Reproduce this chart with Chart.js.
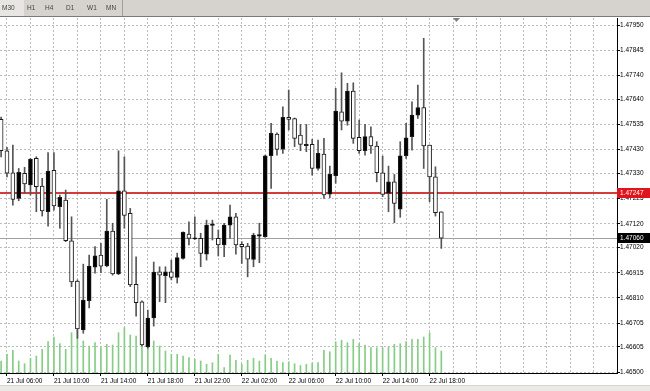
<!DOCTYPE html>
<html>
<head>
<meta charset="utf-8">
<script src="https://cdn.jsdelivr.net/npm/chart.js@4"></script>
<style>
  html, body { margin: 0; padding: 0; background: #fff; }
  canvas { display: block; }
</style>
</head>
<body>
<canvas id="chart" width="650" height="391"></canvas>
<script>
// M30 bars, first bar = 21 Jul 05:30
const timeLabels = ['21 Jul 06:00', '21 Jul 10:00', '21 Jul 14:00', '21 Jul 18:00', '21 Jul 22:00',
    '22 Jul 02:00', '22 Jul 06:00', '22 Jul 10:00', '22 Jul 14:00', '22 Jul 18:00'];
const priceTicks = [1.46500, 1.46605, 1.46705, 1.46810, 1.46915, 1.47020, 1.47120, 1.47225,
    1.47330, 1.47430, 1.47535, 1.47640, 1.47740, 1.47845, 1.47950];
const timeframes = ['M30', 'H1', 'H4', 'D1', 'W1', 'MN'];

const opens = [1.47556, 1.47425, 1.47333, 1.47226, 1.47331, 1.47282, 1.47393, 1.47277, 1.47170, 1.47343,
    1.47191, 1.47219, 1.47049, 1.46880, 1.46676, 1.46798, 1.46938, 1.46989, 1.46944, 1.47089,
    1.46910, 1.47257, 1.47163, 1.46867, 1.46794, 1.46605, 1.46726, 1.46919, 1.46903, 1.46919,
    1.46896, 1.46975, 1.47077, 1.47056, 1.47059, 1.46993, 1.47113, 1.47059, 1.47031, 1.47114,
    1.47149, 1.47034, 1.47027, 1.46971, 1.47068, 1.47066, 1.47404, 1.47495, 1.47432, 1.47565,
    1.47560, 1.47491, 1.47446, 1.47452, 1.47351, 1.47411, 1.47244, 1.47321, 1.47588, 1.47549,
    1.47675, 1.47481, 1.47425, 1.47484, 1.47445, 1.47333, 1.47247, 1.47295, 1.47181, 1.47404,
    1.47484, 1.47574, 1.47606, 1.47449, 1.47316, 1.47170];
const highs = [1.47566, 1.47439, 1.47449, 1.47351, 1.47356, 1.47393, 1.47400, 1.47310, 1.47417, 1.47417,
    1.47240, 1.47261, 1.47149, 1.46885, 1.46951, 1.46989, 1.47024, 1.47038, 1.47222, 1.47122,
    1.47425, 1.47400, 1.47184, 1.46982, 1.46798, 1.46759, 1.46960, 1.46940, 1.46940, 1.46968,
    1.46997, 1.47086, 1.47128, 1.47149, 1.47080, 1.47135, 1.47135, 1.47094, 1.47122, 1.47198,
    1.47163, 1.47045, 1.47038, 1.47080, 1.47122, 1.47407, 1.47540, 1.47500, 1.47609, 1.47679,
    1.47562, 1.47535, 1.47535, 1.47473, 1.47470, 1.47477, 1.47361, 1.47686, 1.47751, 1.47707,
    1.47709, 1.47553, 1.47535, 1.47525, 1.47463, 1.47403, 1.47361, 1.47326, 1.47463, 1.47540,
    1.47630, 1.47700, 1.47895, 1.47449, 1.47358, 1.47170];
const lows = [1.47399, 1.47316, 1.47198, 1.47216, 1.47247, 1.47240, 1.47170, 1.47152, 1.47110, 1.47177,
    1.47101, 1.47045, 1.46857, 1.46641, 1.46662, 1.46768, 1.46913, 1.46915, 1.46940, 1.46905,
    1.46907, 1.47101, 1.46857, 1.46734, 1.46609, 1.46600, 1.46692, 1.46794, 1.46790, 1.46885,
    1.46872, 1.46972, 1.47031, 1.47054, 1.46940, 1.46968, 1.47052, 1.46985, 1.46982, 1.47059,
    1.46993, 1.46954, 1.46898, 1.46940, 1.46957, 1.47063, 1.47268, 1.47407, 1.47414, 1.47512,
    1.47442, 1.47425, 1.47421, 1.47323, 1.47344, 1.47226, 1.47229, 1.47289, 1.47512, 1.47532,
    1.47456, 1.47414, 1.47407, 1.47414, 1.47295, 1.47233, 1.47170, 1.47124, 1.47147, 1.47393,
    1.47428, 1.47560, 1.47351, 1.47212, 1.47152, 1.47017];
const closes = [1.47425, 1.47331, 1.47222, 1.47335, 1.47286, 1.47389, 1.47275, 1.47174, 1.47340, 1.47194,
    1.47230, 1.47049, 1.46877, 1.46680, 1.46801, 1.46943, 1.46986, 1.46943, 1.47089, 1.46910,
    1.47257, 1.47155, 1.46864, 1.46790, 1.46613, 1.46726, 1.46918, 1.46905, 1.46919, 1.46896,
    1.46978, 1.47084, 1.47059, 1.47061, 1.46996, 1.47114, 1.47120, 1.47031, 1.47114, 1.47149,
    1.47031, 1.47024, 1.46972, 1.47073, 1.47075, 1.47404, 1.47498, 1.47431, 1.47565, 1.47556,
    1.47477, 1.47452, 1.47452, 1.47351, 1.47414, 1.47240, 1.47326, 1.47591, 1.47549, 1.47675,
    1.47477, 1.47425, 1.47484, 1.47445, 1.47333, 1.47243, 1.47295, 1.47205, 1.47404, 1.47479,
    1.47574, 1.47606, 1.47445, 1.47316, 1.47166, 1.47060];
const volumes = [120, 187, 227, 120, 93, 147, 170, 237, 313, 360,
    293, 237, 403, 427, 320, 270, 303, 253, 287, 280,
    403, 453, 380, 370, 420, 303, 320, 270, 220, 187,
    187, 170, 153, 137, 120, 87, 103, 187, 53, 180,
    127, 87, 127, 147, 120, 180, 147, 120, 103, 113,
    93, 75, 87, 100, 103, 227, 213, 313, 327, 303,
    337, 293, 280, 253, 253, 253, 260, 287, 293, 313,
    337, 337, 360, 403, 253, 220];

const alertLevel = 1.47247;
const bidLevel = 1.47060;

const FONT = 'Liberation Sans, Arial, sans-serif';
const firstLabelBar = 1;   // 21 Jul 06:00
const barsPerLabel = 8;
const barsPerGrid = 4;
const lastGridBar = 101;

const bodies = opens.map((o, i) => ({ x: i, y: [o, closes[i]] }));
const wicks = highs.map((h, i) => ({ x: i, y: [lows[i], h] }));
const vols = volumes.map((v, i) => ({ x: i, y: v }));
const bodyFill = opens.map((o, i) => closes[i] >= o ? '#000' : '#fff');

const gridBars = [];
for (let b = firstLabelBar; b <= lastGridBar; b += barsPerGrid) gridBars.push(b);

function labelFor(bar) {
    const k = (bar - firstLabelBar) / barsPerLabel;
    return Number.isInteger(k) && k < timeLabels.length ? timeLabels[k] : '';
}

function priceBox(ctx, chart, level, bg) {
    const y = Math.round(chart.scales.y.getPixelForValue(level));
    ctx.fillStyle = bg;
    ctx.fillRect(617, y - 5, 33, 10);
    ctx.fillStyle = '#fff';
    ctx.font = '6.5px ' + FONT;
    ctx.textBaseline = 'middle';
    ctx.textAlign = 'left';
    ctx.fillText(level.toFixed(5), 620, y);
}

function hLine(ctx, chart, level, color, thick) {
    const { chartArea } = chart;
    const y = Math.round(chart.scales.y.getPixelForValue(level));
    ctx.fillStyle = color;
    ctx.fillRect(chartArea.left, y - (thick > 1 ? 1 : 0), chartArea.right - chartArea.left, thick);
}

const mt4Chrome = {
    id: 'mt4Chrome',
    beforeDraw(chart) {
        const { ctx, width, height } = chart;
        ctx.save();
        ctx.fillStyle = '#fff';
        ctx.fillRect(0, 0, width, height);
        // toolbar with timeframe buttons
        ctx.fillStyle = '#d6d3ce';
        ctx.fillRect(0, 0, width, 16);
        ctx.fillStyle = '#e8e6e2';
        ctx.fillRect(0, 0, 24, 16);
        ctx.fillStyle = '#7a7a7a';
        ctx.fillRect(0, 16, width, 1);
        ctx.fillStyle = '#a0a0a0';
        ctx.fillRect(122, 0, 1, 16);
        ctx.fillStyle = '#444';
        ctx.font = '6.5px ' + FONT;
        ctx.textBaseline = 'middle';
        const tabX = [2, 27, 45, 66, 87, 106];
        timeframes.forEach((t, i) => ctx.fillText(t, tabX[i], 8));
        // bottom strip
        ctx.fillStyle = '#eceae6';
        ctx.fillRect(0, 386, width, height - 386);
        ctx.fillStyle = '#d8d6d2';
        ctx.fillRect(0, 385, width, 1);
        ctx.restore();
    },
    beforeDatasetsDraw(chart) {
        const { ctx } = chart;
        ctx.save();
        hLine(ctx, chart, alertLevel, '#d23c3c', 2);
        hLine(ctx, chart, bidLevel, '#a0a0a0', 1);
        ctx.restore();
    },
    afterDraw(chart) {
        const { ctx, chartArea } = chart;
        ctx.save();
        ctx.fillStyle = '#000';
        ctx.fillRect(chartArea.left, chartArea.bottom, chartArea.right - chartArea.left + 1, 1);
        ctx.fillRect(chartArea.right, chartArea.top, 1, chartArea.bottom - chartArea.top + 1);
        // chart shift marker
        ctx.fillStyle = '#808080';
        ctx.beginPath();
        ctx.moveTo(453, 18); ctx.lineTo(460, 18); ctx.lineTo(456.5, 22);
        ctx.closePath(); ctx.fill();
        priceBox(ctx, chart, alertLevel, '#e0141c');
        priceBox(ctx, chart, bidLevel, '#000');
        ctx.restore();
    }
};

new Chart(document.getElementById('chart'), {
    type: 'bar',
    data: {
        datasets: [
            {
                data: bodies,
                yAxisID: 'y',
                backgroundColor: bodyFill,
                borderColor: '#1a1a1a',
                borderWidth: 1,
                borderSkipped: false,
                barThickness: 4,
                minBarLength: 1,
                grouped: false,
                order: 0
            },
            {
                data: wicks,
                yAxisID: 'y',
                backgroundColor: '#555',
                barThickness: 1,
                grouped: false,
                order: 1
            },
            {
                data: vols,
                yAxisID: 'vol',
                backgroundColor: '#86cc86',
                barThickness: 1,
                grouped: false,
                order: 2
            }
        ]
    },
    options: {
        responsive: false,
        animation: false,
        devicePixelRatio: 1,
        layout: { padding: { top: 18, left: 0, right: 0, bottom: 0 } },
        plugins: {
            legend: { display: false },
            tooltip: { enabled: false }
        },
        scales: {
            x: {
                type: 'linear',
                offset: false,
                min: -0.19,
                max: 104.93,
                afterBuildTicks: (scale) => { scale.ticks = gridBars.map(v => ({ value: v })); },
                afterFit: (scale) => { scale.height = 18; },
                grid: {
                    offset: false,
                    color: '#bdbdbd',
                    tickColor: (c) => labelFor(c.tick ? c.tick.value : -1) ? '#000' : 'rgba(0,0,0,0)',
                    tickLength: 3,
                    tickBorderDash: []
                },
                border: { display: false, dash: [2, 2] },
                ticks: {
                    autoSkip: false,
                    maxRotation: 0,
                    minRotation: 0,
                    align: 'start',
                    padding: 1,
                    color: '#000',
                    font: { family: FONT, size: 6.5 },
                    callback: (v) => labelFor(v)
                }
            },
            y: {
                type: 'linear',
                position: 'right',
                min: 1.46496,
                max: 1.47980,
                afterBuildTicks: (scale) => { scale.ticks = priceTicks.map(v => ({ value: v })); },
                afterFit: (scale) => { scale.width = 33; },
                grid: {
                    color: '#bdbdbd',
                    tickColor: '#000',
                    tickLength: 3,
                    tickBorderDash: []
                },
                border: { display: false, dash: [2, 2] },
                ticks: {
                    autoSkip: false,
                    padding: 0,
                    color: '#000',
                    font: { family: FONT, size: 6.5 },
                    callback: (v) => v.toFixed(5)
                }
            },
            vol: {
                type: 'linear',
                display: false,
                min: 0,
                max: 3550
            }
        }
    },
    plugins: [mt4Chrome]
});
</script>
</body>
</html>
